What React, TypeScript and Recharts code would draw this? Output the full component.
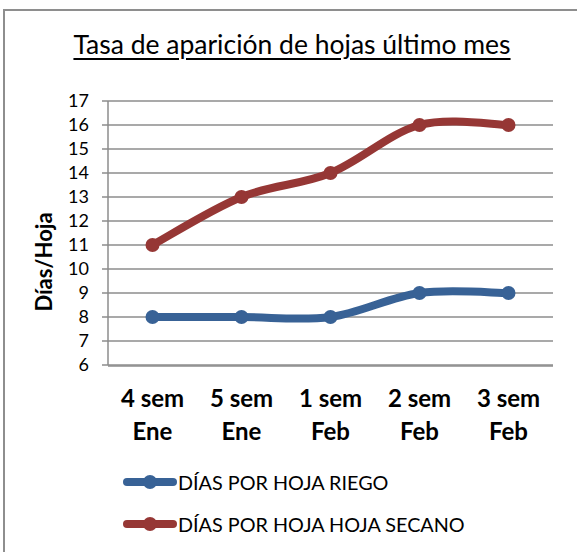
import React from "react";
import { LineChart, Line, XAxis, YAxis, CartesianGrid } from "recharts";

const weeks = ["4 sem", "5 sem", "1 sem", "2 sem", "3 sem"];
const months = ["Ene", "Ene", "Feb", "Feb", "Feb"];
const riego = [8, 8, 8, 9, 9];
const secano = [11, 13, 14, 16, 16];
const yTicks = [6, 7, 8, 9, 10, 11, 12, 13, 14, 15, 16, 17];
const edgeTicks = [0, 1, 2, 3, 4, 5];

const data = weeks.map((w, i) => ({
  name: `${w} ${months[i]}`,
  riego: riego[i],
  secano: secano[i],
}));

const BLUE = "#386296";
const RED = "#963735";
const GRID = "#8c8c8c";
const FONT = "Lato, 'Noto Sans', sans-serif";

// Excel-like smoothed line (Catmull-Rom through the points)
function excelCurve(context: any) {
  let pts: [number, number][] = [];
  return {
    areaStart() {},
    areaEnd() {},
    lineStart() {
      pts = [];
    },
    point(x: number, y: number) {
      pts.push([+x, +y]);
    },
    lineEnd() {
      const n = pts.length;
      if (!n) return;
      context.moveTo(pts[0][0], pts[0][1]);
      for (let i = 0; i < n - 1; i++) {
        const p0 = pts[Math.max(i - 1, 0)];
        const p1 = pts[i];
        const p2 = pts[i + 1];
        const p3 = pts[Math.min(i + 2, n - 1)];
        context.bezierCurveTo(
          p1[0] + (p2[0] - p0[0]) / 6,
          p1[1] + (p2[1] - p0[1]) / 6,
          p2[0] - (p3[0] - p1[0]) / 6,
          p2[1] - (p3[1] - p1[1]) / 6,
          p2[0],
          p2[1]
        );
      }
    },
  };
}

function CategoryTick({ x, y, index }: any) {
  return (
    <text
      x={x}
      y={y}
      textAnchor="middle"
      fontFamily={FONT}
      fontWeight={700}
      fontSize={24}
      fill="#000"
    >
      <tspan x={x} dy={40}>{weeks[index]}</tspan>
      <tspan x={x} dy={33}>{months[index]}</tspan>
    </text>
  );
}

function YLabel({ viewBox }: any) {
  const cx = viewBox.x + 43;
  const cy = viewBox.y + viewBox.height / 2 + 29;
  return (
    <text
      x={cx}
      y={cy}
      transform={`rotate(-90 ${cx} ${cy})`}
      textAnchor="middle"
      dominantBaseline="central"
      fontFamily={FONT}
      fontWeight={700}
      fontSize={22}
      fill="#000"
    >
      Días/Hoja
    </text>
  );
}

function LegendRow({ color, label, top }: { color: string; label: string; top: number }) {
  return (
    <div
      style={{
        position: "absolute",
        left: 120,
        top: top - 12,
        height: 24,
        display: "flex",
        alignItems: "center",
      }}
    >
      <svg width={58} height={16}>
        <line x1={7} y1={8} x2={53} y2={8} stroke={color} strokeWidth={8} strokeLinecap="round" />
        <circle cx={30} cy={8} r={7} fill={color} />
      </svg>
      <span style={{ fontFamily: FONT, fontSize: 19.8, color: "#000", whiteSpace: "nowrap" }}>
        {label}
      </span>
    </div>
  );
}

export default function App() {
  return (
    <div
      style={{
        position: "absolute",
        left: 0,
        top: 0,
        width: 577,
        height: 552,
        overflow: "hidden",
        background: "#fff",
      }}
    >
      <div
        style={{
          position: "absolute",
          left: 3,
          top: 9,
          width: 700,
          height: 700,
          border: "2px solid #8e8e8e",
        }}
      />
      <div
        style={{
          position: "absolute",
          left: 0,
          width: 584,
          top: 28,
          textAlign: "center",
          fontFamily: FONT,
          fontSize: 26.5,
          textDecoration: "underline",
          textUnderlineOffset: 4,
          color: "#000",
        }}
      >
        Tasa de aparición de hojas último mes
      </div>
      <div style={{ position: "absolute", left: 0, top: 0 }}>
        <LineChart
          width={577}
          height={552}
          data={data}
          margin={{ top: 101, right: 24, bottom: 185, left: 0 }}
        >
          <CartesianGrid vertical={false} stroke={GRID} strokeWidth={1.5} />
          <XAxis
            xAxisId="edges"
            type="number"
            dataKey={() => 0}
            domain={[0, 5]}
            allowDataOverflow
            ticks={edgeTicks}
            height={1}
            tick={false}
            tickSize={7}
            axisLine={{ stroke: GRID, strokeWidth: 1.5 }}
            tickLine={{ stroke: GRID, strokeWidth: 1.5 }}
          />
          <XAxis
            dataKey="name"
            scale="band"
            height={1}
            axisLine={false}
            tickLine={false}
            tickSize={0}
            interval={0}
            tick={<CategoryTick />}
          />
          <YAxis
            width={108}
            domain={[6, 17]}
            ticks={yTicks}
            interval={0}
            tickSize={6}
            tickMargin={13}
            axisLine={{ stroke: GRID, strokeWidth: 1.5 }}
            tickLine={{ stroke: GRID, strokeWidth: 1.5 }}
            tick={{ fontFamily: FONT, fontSize: 18, fill: "#000" }}
            label={<YLabel />}
          />
          <Line
            dataKey="riego"
            type={excelCurve as any}
            stroke={BLUE}
            strokeWidth={8}
            strokeLinecap="round"
            dot={{ r: 7, fill: BLUE, stroke: "none" }}
            activeDot={false}
            isAnimationActive={false}
          />
          <Line
            dataKey="secano"
            type={excelCurve as any}
            stroke={RED}
            strokeWidth={8}
            strokeLinecap="round"
            dot={{ r: 7, fill: RED, stroke: "none" }}
            activeDot={false}
            isAnimationActive={false}
          />
        </LineChart>
      </div>
      <LegendRow color={BLUE} label="DÍAS POR HOJA RIEGO" top={482} />
      <LegendRow color={RED} label="DÍAS POR HOJA HOJA SECANO" top={524} />
    </div>
  );
}
